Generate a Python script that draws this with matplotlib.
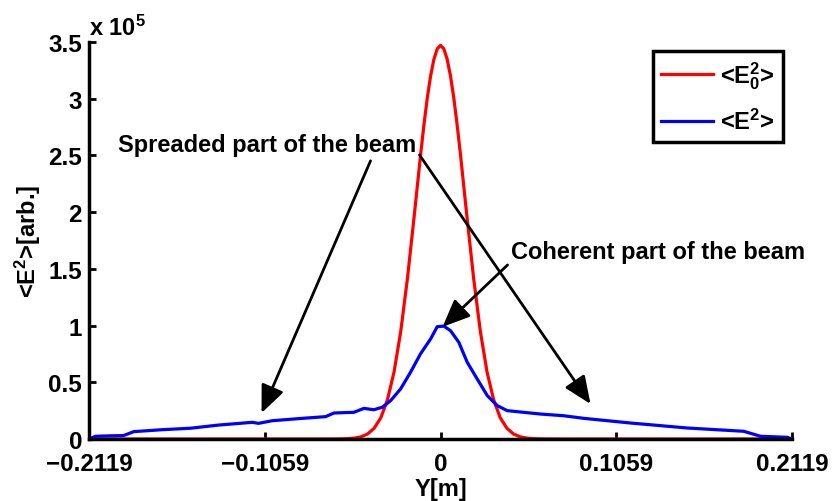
import matplotlib.pyplot as plt

plt.rcParams['font.family'] = 'Liberation Sans'
plt.rcParams['font.weight'] = 'bold'
plt.rcParams['font.size'] = 17
plt.rcParams['mathtext.fontset'] = 'custom'
plt.rcParams['mathtext.rm'] = 'Liberation Sans:bold'
plt.rcParams['mathtext.it'] = 'Liberation Sans:bold'
plt.rcParams['mathtext.bf'] = 'Liberation Sans:bold'

# input beam <E0^2>, intensity in units of 1e5
y_in = [-0.2119, -0.1000, -0.0700, -0.060, -0.056, -0.052, -0.048, -0.044, -0.040,
        -0.036, -0.032, -0.028, -0.024, -0.020, -0.016, -0.012, -0.010, -0.008,
        -0.006, -0.004, -0.002, 0.000, 0.002, 0.004, 0.006, 0.008, 0.010, 0.012,
        0.016, 0.020, 0.024, 0.028, 0.032, 0.036, 0.040, 0.044, 0.048, 0.052,
        0.056, 0.060, 0.0700, 0.1000, 0.2119]
e2_in = [0.0, 0.0, 0.0, 0.001, 0.003, 0.008, 0.019, 0.044, 0.095,
         0.187, 0.346, 0.593, 0.948, 1.410, 1.949, 2.509, 2.770, 3.004,
         3.200, 3.347, 3.439, 3.470, 3.439, 3.347, 3.200, 3.004, 2.770, 2.509,
         1.949, 1.410, 0.948, 0.593, 0.346, 0.187, 0.095, 0.044, 0.019, 0.008,
         0.003, 0.001, 0.0, 0.0, 0.0]

# propagated beam <E^2>, intensity in units of 1e5
y_out = [-0.2119, -0.2080, -0.1989, -0.1911, -0.1849, -0.1678, -0.1507, -0.1337,
         -0.1135, -0.1097, -0.1015, -0.0834, -0.0693, -0.0643, -0.0573, -0.0523,
         -0.0462, -0.0402, -0.0351, -0.0301, -0.0241, -0.0181, -0.0121, -0.0060,
         -0.0020, 0.0020, 0.0060, 0.0110, 0.0161, 0.0221, 0.0282, 0.0342, 0.0402,
         0.0502, 0.0603, 0.0743, 0.0864, 0.1145, 0.1487, 0.1828, 0.1869, 0.1929,
         0.2090, 0.2119]
e2_out = [0.0, 0.024, 0.028, 0.030, 0.065, 0.082, 0.095, 0.123,
          0.147, 0.138, 0.161, 0.182, 0.197, 0.229, 0.233, 0.235,
          0.270, 0.258, 0.280, 0.338, 0.441, 0.588, 0.750, 0.882,
          0.990, 0.995, 0.955, 0.853, 0.676, 0.529, 0.382, 0.294, 0.250,
          0.235, 0.220, 0.205, 0.182, 0.141, 0.097, 0.068, 0.050, 0.024,
          0.015, 0.0]

xticks = [-0.2119, -0.1059, 0, 0.1059, 0.2119]
xticklabels = ['\u22120.2119', '\u22120.1059', '0', '0.1059', '0.2119']
yticks = [0, 0.5, 1, 1.5, 2, 2.5, 3, 3.5]
yticklabels = ['0', '0.5', '1', '1.5', '2', '2.5', '3', '3.5']

fig = plt.figure(figsize=(8.32, 5.02), dpi=100)
ax = fig.add_axes([0.107, 0.1235, 0.845, 0.791])

ax.plot(y_in, e2_in, color='red', lw=2.3, label='<E$_0^2$>')
ax.plot(y_out, e2_out, color='blue', lw=2.3, label='<E$^2$>')

ax.set_xlim(-0.2119, 0.2119)
ax.set_ylim(0, 3.5)
ax.set_xticks(xticks)
ax.set_xticklabels(xticklabels)
ax.set_yticks(yticks)
ax.set_yticklabels(yticklabels)
ax.tick_params(direction='in', length=5, width=2, labelsize=17.5)
ax.tick_params(axis='x', pad=9)
ax.tick_params(axis='y', pad=5)

for side in ['top', 'right']:
    ax.spines[side].set_visible(False)
for side in ['left', 'bottom']:
    ax.spines[side].set_linewidth(2.5)

ax.set_xlabel('Y[m]', fontsize=17, fontweight='bold', labelpad=2)
ax.set_ylabel('<E$^2$>[arb.]', fontsize=17, fontweight='bold', labelpad=4)
ax.text(0.0, 1.005, 'x 10$^5$', transform=ax.transAxes, fontsize=17,
        fontweight='bold', ha='left', va='bottom')

leg = ax.legend(loc='upper right', bbox_to_anchor=(0.987, 0.977), fancybox=False,
                edgecolor='black', framealpha=1, handlelength=2.2,
                labelspacing=0.75, borderpad=0.35, borderaxespad=0,
                handletextpad=0.3, fontsize=17)
leg.get_frame().set_linewidth(2.5)

# arrows pointing at the scattered wings and the coherent peak
arrow = dict(arrowstyle='-|>,head_length=0.7,head_width=0.3', color='black',
             lw=2, mutation_scale=24, shrinkA=0, shrinkB=0)
ax.text(-0.1947, 2.60, 'Spreaded part of the beam', fontsize=17,
        fontweight='bold', ha='left', va='center')
ax.annotate('', xy=(-0.1079, 0.229), xytext=(-0.0422, 2.452), arrowprops=arrow, zorder=5)
ax.annotate('', xy=(0.0904, 0.309), xytext=(-0.0127, 2.504), arrowprops=arrow, zorder=5)
ax.text(0.0422, 1.649, 'Coherent part of the beam', fontsize=17,
        fontweight='bold', ha='left', va='center')
ax.annotate('', xy=(0.0012, 0.988), xytext=(0.0404, 1.534), arrowprops=arrow, zorder=5)

fig.savefig('out.png', dpi=100)
